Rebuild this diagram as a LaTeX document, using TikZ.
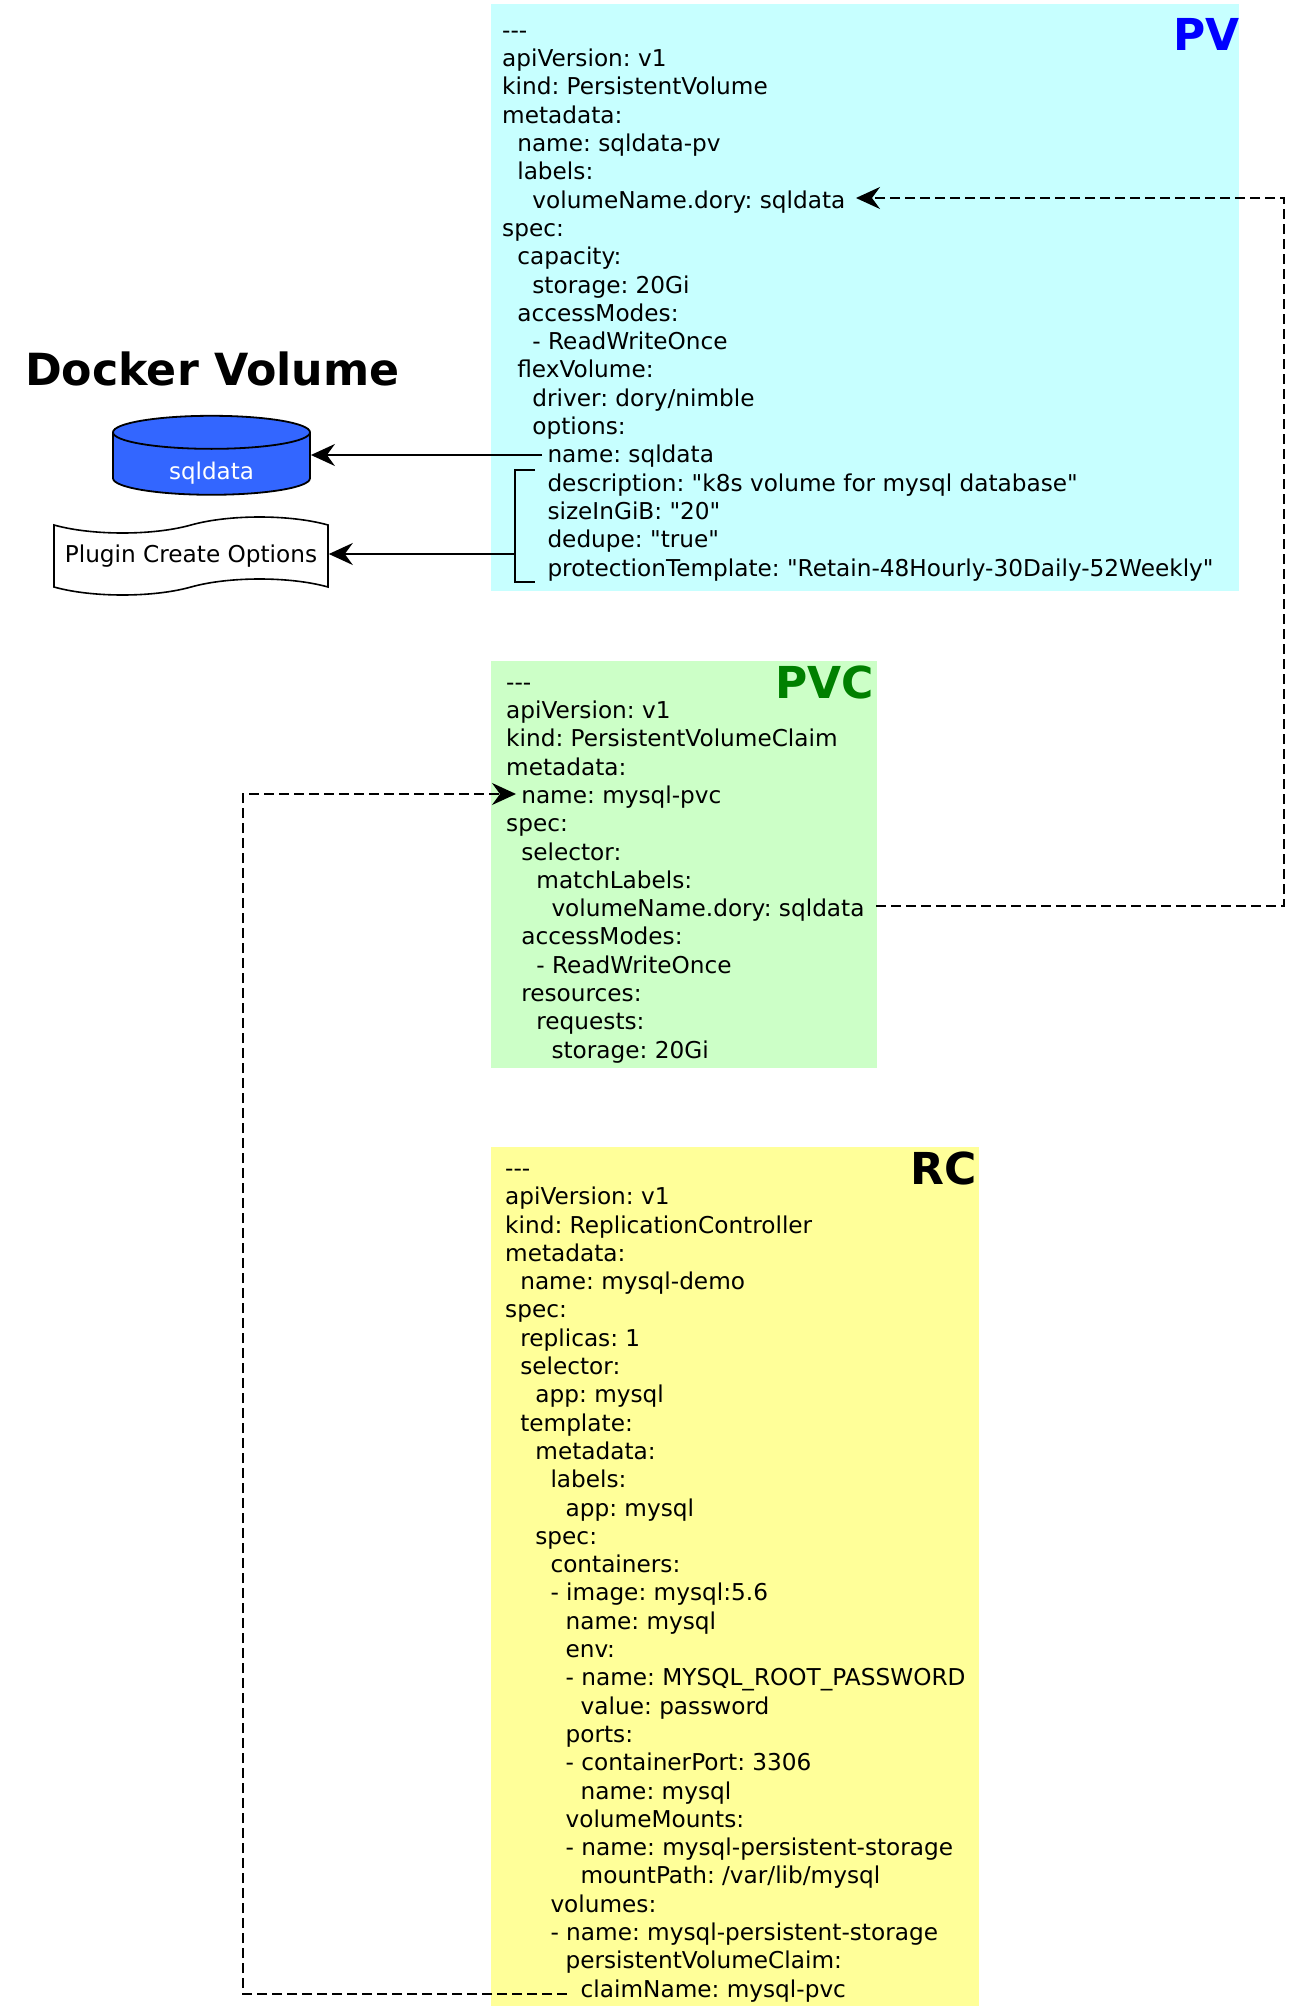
\documentclass[tikz,border=0pt]{standalone}
\usepackage{fontspec}
\usepackage{tikz}
\usetikzlibrary{shapes.geometric,shapes.symbols,arrows.meta}
\newfontfamily\yamlfont{DejaVu Sans}
\newfontfamily\headfont{DejaVu Sans}[BoldFont={DejaVu Sans Bold}]
\definecolor{pvcolor}{rgb}{0.78,1.00,1.00}
\definecolor{pvccolor}{rgb}{0.80,1.00,0.78}
\definecolor{rccolor}{rgb}{1.00,1.00,0.60}
\definecolor{volcolor}{rgb}{0.20,0.40,1.00}
\definecolor{pvccolortitle}{rgb}{0.00,0.50,0.00}
\newcommand{\ind}[1]{\hspace*{#1\dimexpr15.1pt\relax}}

\begin{document}
\frenchspacing
\begin{tikzpicture}[x=1pt,y=-1pt,
        >={Stealth[length=24pt,width=22pt,inset=8pt]},
]
\tikzstyle{backbox}=[rectangle,anchor=north west,inner sep=0pt]
\tikzstyle{yaml}=[anchor=west,align=left,inner sep=0pt,font=\yamlfont\fontsize{23.2}{28.3}\selectfont]
\tikzstyle{title}=[anchor=north east,inner sep=0pt,font=\headfont\bfseries\fontsize{44}{44}\selectfont]
\tikzstyle{connect}=[->,line width=1.8pt]
\tikzstyle{link}=[->,line width=1.8pt,dash pattern=on 10pt off 5pt]

	\useasboundingbox (0,0) rectangle (1312,2010);

	\node[backbox,fill=pvcolor,minimum width=748pt,minimum height=587pt] (pv) at (491,4) {};
	\node[backbox,fill=pvccolor,minimum width=386pt,minimum height=407pt] (pvc) at (491,661) {};
	\node[backbox,fill=rccolor,minimum width=488pt,minimum height=859pt] (rc) at (491,1147) {};

	\node[yaml] (pvtext) at (502,306) {%
---\\
apiVersion: v1\\
kind: PersistentVolume\\
metadata:\\
\ind{1}name: sqldata-pv\\
\ind{1}labels:\\
\ind{2}volumeName.dory: sqldata\\
spec:\\
\ind{1}capacity:\\
\ind{2}storage: 20Gi\\
\ind{1}accessModes:\\
\ind{2}- ReadWriteOnce\\
\ind{1}flexVolume:\\
\ind{2}driver: dory/nimble\\
\ind{2}options:\\
\ind{3}name: sqldata\\
\ind{3}description: "k8s volume for mysql database"\\
\ind{3}sizeInGiB: "20"\\
\ind{3}dedupe: "true"\\
\ind{3}protectionTemplate: "Retain-48Hourly-30Daily-52Weekly"};

	\node[yaml] (pvctext) at (506,873) {%
---\\
apiVersion: v1\\
kind: PersistentVolumeClaim\\
metadata:\\
\ind{1}name: mysql-pvc\\
spec:\\
\ind{1}selector:\\
\ind{2}matchLabels:\\
\ind{3}volumeName.dory: sqldata\\
\ind{1}accessModes:\\
\ind{2}- ReadWriteOnce\\
\ind{1}resources:\\
\ind{2}requests:\\
\ind{3}storage: 20Gi};

	\node[yaml] (rctext) at (505,1585.5) {%
---\\
apiVersion: v1\\
kind: ReplicationController\\
metadata:\\
\ind{1}name: mysql-demo\\
spec:\\
\ind{1}replicas: 1\\
\ind{1}selector:\\
\ind{2}app: mysql\\
\ind{1}template:\\
\ind{2}metadata:\\
\ind{3}labels:\\
\ind{4}app: mysql\\
\ind{2}spec:\\
\ind{3}containers:\\
\ind{3}- image: mysql:5.6\\
\ind{4}name: mysql\\
\ind{4}env:\\
\ind{4}- name: MYSQL\_ROOT\_PASSWORD\\
\ind{5}value: password\\
\ind{4}ports:\\
\ind{4}- containerPort: 3306\\
\ind{5}name: mysql\\
\ind{4}volumeMounts:\\
\ind{4}- name: mysql-persistent-storage\\
\ind{5}mountPath: /var/lib/mysql\\
\ind{3}volumes:\\
\ind{3}- name: mysql-persistent-storage\\
\ind{4}persistentVolumeClaim:\\
\ind{5}claimName: mysql-pvc};

	\node[title,text=blue] (pvtitle) at (1240,18) {PV};
	\node[title,text=pvccolortitle] (pvctitle) at (874,666) {PVC};
	\node[title] (rctitle) at (977,1152) {RC};
	\node[anchor=west,inner sep=0pt,font=\headfont\bfseries\fontsize{44.3}{44}\selectfont] (dockertitle) at (25,369) {Docker Volume};

	\node[cylinder,shape border rotate=90,aspect=0.39,draw,line width=1.8pt,fill=volcolor,text=white,minimum width=197pt,minimum height=79pt,inner sep=0pt,font=\yamlfont\fontsize{23}{25}\selectfont] (vol) at (211.5,464) {\raisebox{-15pt}[0pt][0pt]{sqldata}};
	\node[tape,draw,line width=1.6pt,fill=white,tape bend top=in and out,tape bend bottom=in and out,tape bend height=16pt,minimum width=274pt,minimum height=78pt,inner sep=0pt,font=\yamlfont\fontsize{23.2}{25}\selectfont] (opts) at (191,556) {Plugin Create Options};

	\coordinate (nameend) at (542,455);
	\coordinate (brtop) at (535,470);
	\coordinate (brbot) at (535,582);
	\coordinate (brmid) at (515,554);
	\coordinate (pvcsel) at (876,906);
	\coordinate (pvsel) at (856,198);
	\coordinate (rcclaim) at (567,1994);
	\coordinate (pvcname) at (516,794);

	\draw[line width=1.8pt] (brtop) -- (515,470) -- (515,582) -- (brbot);
	\draw[connect] (nameend) -- (vol.east |- nameend);
	\draw[connect] (brmid) -- (opts.east |- brmid);
	\draw[link] (pvcsel) -- (1284,906) -- (1284,198) -- (pvsel);
	\draw[link] (rcclaim) -- (243,1994) -- (243,794) -- (pvcname);

\end{tikzpicture}
\end{document}
